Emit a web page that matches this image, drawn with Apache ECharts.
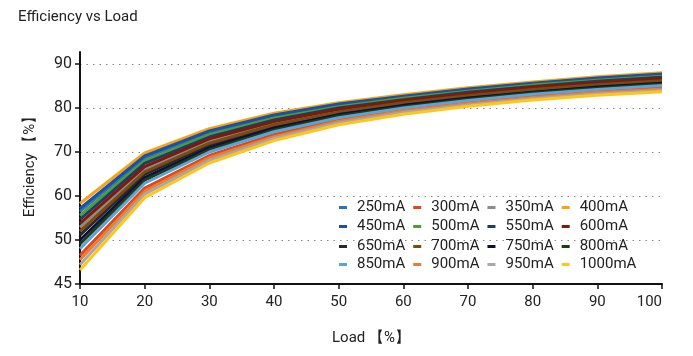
<!DOCTYPE html>
<html>
<head>
<meta charset="utf-8">
<script src="https://cdn.jsdelivr.net/npm/echarts@6/dist/echarts.min.js"></script>
<style>
html,body{margin:0;padding:0;background:#fff;}
#chart{width:693px;height:356px;}
</style>
</head>
<body>
<div id="chart"></div>
<script>
const loads = [10, 20, 30, 40, 50, 60, 70, 80, 90, 100];
const yTickValues = [40, 50, 60, 70, 80, 90];
const yTickLabels = ['45', '50', '60', '70', '80', '90'];
const seriesNames = ['250mA','300mA','350mA','400mA','450mA','500mA','550mA','600mA','650mA','700mA','750mA','800mA','850mA','900mA','950mA','1000mA'];
const colors = ['#2e75b6','#d84b20','#8c8c8c','#f4a417','#1f4ea3','#4a9e34','#1f3b66','#7f1a0a','#2a2a2a','#7b4a12','#0f1040','#1d3d17','#5ba3d9','#ee7a33','#a8a8a8','#ffc61a'];

const eff250  = [56.5, 68.6, 74.4, 78.1, 80.6, 82.5, 84.1, 85.4, 86.6, 87.5];
const eff300  = [46.5, 61.8, 69.2, 74.0, 77.3, 79.6, 81.3, 82.7, 83.8, 84.6];
const eff350  = [52.9, 66.1, 72.5, 76.6, 79.4, 81.4, 83.1, 84.4, 85.6, 86.5];
const eff400  = [58.3, 69.8, 75.3, 78.8, 81.2, 83.0, 84.6, 85.9, 87.1, 88.0];
const eff450  = [57.2, 69.1, 74.8, 78.4, 80.9, 82.7, 84.3, 85.6, 86.8, 87.7];
const eff500  = [55.6, 68.0, 73.9, 77.7, 80.3, 82.2, 83.8, 85.2, 86.3, 87.2];
const eff550  = [54.7, 67.4, 73.4, 77.3, 80.0, 81.9, 83.6, 84.9, 86.1, 87.0];
const eff600  = [53.8, 66.7, 73.0, 76.9, 79.7, 81.7, 83.3, 84.7, 85.8, 86.7];
const eff650  = [51.1, 64.9, 71.6, 75.8, 78.8, 80.9, 82.6, 83.9, 85.1, 85.9];
const eff700  = [52.0, 65.5, 72.0, 76.2, 79.1, 81.2, 82.8, 84.2, 85.3, 86.2];
const eff750  = [50.0, 64.2, 71.0, 75.4, 78.5, 80.6, 82.3, 83.6, 84.8, 85.6];
const eff800  = [49.1, 63.6, 70.5, 75.0, 78.2, 80.3, 82.0, 83.4, 84.5, 85.4];
const eff850  = [48.0, 62.9, 70.0, 74.6, 77.8, 80.0, 81.7, 83.1, 84.2, 85.1];
const eff900  = [45.5, 61.1, 68.7, 73.5, 77.0, 79.3, 81.0, 82.4, 83.5, 84.3];
const eff950  = [44.4, 60.4, 68.1, 73.1, 76.6, 79.0, 80.7, 82.1, 83.2, 84.0];
const eff1000 = [43.2, 59.6, 67.5, 72.6, 76.2, 78.6, 80.4, 81.8, 82.9, 83.7];

const allData = [eff250, eff300, eff350, eff400, eff450, eff500, eff550, eff600, eff650, eff700, eff750, eff800, eff850, eff900, eff950, eff1000];

const FONT = 'Roboto';
const TXT = '#222';

const series = seriesNames.map((name, i) => ({
  name: name,
  type: 'line',
  xAxisIndex: 0,
  yAxisIndex: 0,
  symbol: 'none',
  silent: true,
  animation: false,
  lineStyle: { width: 3, color: colors[i] },
  itemStyle: { color: colors[i] },
  data: loads.map((x, j) => [x, allData[i][j]])
}));

const legendRows = [0, 1, 2, 3].map(r => ({
  data: seriesNames.slice(r * 4, r * 4 + 4),
  left: 334,
  top: [195, 214, 234, 252][r],
  orient: 'horizontal',
  icon: 'rect',
  itemWidth: 8,
  itemHeight: 3,
  itemGap: 8,
  selectedMode: false,
  textStyle: { fontFamily: FONT, fontSize: 15, color: TXT, width: 59, padding: [0, 0, 0, 5] }
}));

const chart = echarts.init(document.getElementById('chart'), null, { renderer: 'canvas' });
chart.setOption({
  animation: false,
  backgroundColor: '#fff',
  color: colors,
  title: {
    text: 'Efficiency vs Load',
    left: 13,
    top: 5,
    textStyle: { fontFamily: FONT, fontSize: 15, fontWeight: 'normal', color: TXT }
  },
  legend: legendRows,
  graphic: [{
    type: 'text',
    x: 30,
    y: 163,
    rotation: Math.PI / 2,
    silent: true,
    style: { text: 'Efficiency 【%】', font: '15px Roboto', fill: TXT, align: 'center', verticalAlign: 'middle' }
  }],
  grid: [
    { left: 80, right: 31, top: 64, bottom: 72, containLabel: false },
    { left: 80, right: 31, top: 52, bottom: 72, containLabel: false }
  ],
  xAxis: [
    {
      type: 'value', gridIndex: 0, min: 10, max: 100, interval: 10,
      name: 'Load 【%】', nameLocation: 'middle', nameGap: 47,
      nameTextStyle: { fontFamily: FONT, fontSize: 15, color: TXT },
      axisLine: { show: true, lineStyle: { color: '#111', width: 2 } },
      axisTick: { show: true, length: 5, lineStyle: { color: '#111', width: 1.5 } },
      axisLabel: { fontFamily: FONT, fontSize: 15, color: TXT, margin: 11, alignMaxLabel: 'right', alignMinLabel: 'center' },
      splitLine: { show: false }
    },
    { type: 'value', gridIndex: 1, show: false, min: 0, max: 1 }
  ],
  yAxis: [
    {
      type: 'value', gridIndex: 0, min: 40, max: 90, interval: 10,
      axisLine: { show: true, lineStyle: { color: '#111', width: 2 } },
      axisTick: { show: true, length: 5, lineStyle: { color: '#111', width: 1.5 } },
      axisLabel: {
        fontFamily: FONT, fontSize: 16, color: TXT, margin: 8,
        formatter: v => { const k = yTickValues.indexOf(v); return k >= 0 ? yTickLabels[k] : ''; }
      },
      splitLine: { show: true, showMinLine: false, lineStyle: { color: '#888', width: 1.2, type: [1.5, 5] } }
    },
    {
      type: 'value', gridIndex: 1, min: 0, max: 1,
      axisLine: { show: true, lineStyle: { color: '#111', width: 2 } },
      axisTick: { show: false },
      axisLabel: { show: false },
      splitLine: { show: false }
    }
  ],
  series: series
});
</script>
</body>
</html>
